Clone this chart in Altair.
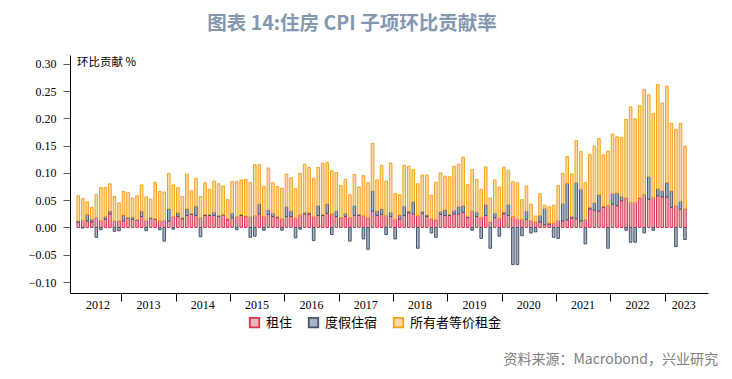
import altair as alt
import pandas as pd

# Monthly, Mar 2012 .. May 2023
dates = pd.date_range("2012-03-01", "2023-05-01", freq="MS")

series_names = ["租住", "度假住宿", "所有者等价租金"]

rent = [
    .010, .013, .012, .010, .018, .013, .015, .025, .012, .012,
    .012, .017, .015, .013, .020, .013, .017, .015, .013, .013, .012, .020,
    .020, .016, .022, .024, .022, .018, .022, .022, .022, .020, .023, .014,
    .018, .020, .022, .020, .020, .022, .025, .020, .024, .020, .018, .016,
    .020, .020, .017, .024, .025, .024, .020, .022, .022, .026, .025, .020,
    .018, .020, .018, .022, .022, .022, .018, .030, .022, .024, .022, .020,
    .015, .015, .022, .027, .025, .022, .026, .020, .016, .014, .024, .022,
    .022, .025, .025, .028, .018, .030, .020, .018, .022, .010, .018, .017,
    .025, .022, .020, .015, .015, .015, .012, .010, .010, .005, .006, .008,
    .013, .012, .014, .017, .016, .012, .014, .034, .032, .030, .037, .040,
    .043, .040, .049, .054, .046, .046, .054, .061, .052, .055, .058, .056,
    .056, .037, .040, .034, .034,
]

lodging = [
    .002, -.001, .012, .005, -.018, -.004, .005, .005, -.007, -.006,
    .011, .001, .004, .001, .010, -.006, .001, .001, -.004, -.025, .022, -.003,
    .007, .002, .012, .002, .017, -.017, .002, .002, .006, .002, .001, .002,
    .008, -.004, .002, .001, -.018, -.016, .018, -.005, .008, .006, .002, -.005,
    .018, .010, -.019, -.003, .002, .003, -.024, .018, .002, .017, -.013, .010,
    .000, .006, -.025, .018, .002, -.021, -.040, .037, .008, .010, -.013, .008,
    -.021, .008, .017, .003, .022, -.038, .003, .003, -.010, -.018, .005, .010,
    .002, .006, .013, .012, .002, -.005, .008, -.020, .020, -.038, .008, -.016,
    .003, .020, -.068, -.068, -.015, .015, -.010, -.008, .012, .030, .002, -.018,
    -.020, .032, .067, .003, .066, .058, -.030, .003, .013, .030, .002, -.038,
    .019, .023, .008, -.005, -.027, -.027, .000, -.010, .041, -.005, .013, .011,
    .026, .030, -.035, .014, -.022,
]

oer = [
    .046, .040, .023, .022, .042, .060, .053, .050, .045, .033,
    .043, .046, .035, .044, .048, .043, .034, .067, .053, .052, .065, .058,
    .046, .039, .064, .041, .051, .039, .058, .046, .057, .058, .052, .035,
    .058, .064, .063, .067, .062, .093, .072, .055, .077, .056, .055, .056,
    .060, .061, .054, .075, .089, .083, .070, .070, .094, .076, .079, .071,
    .059, .062, .042, .057, .050, .073, .064, .087, .057, .080, .063, .090,
    .047, .037, .075, .082, .059, .058, .067, .073, .043, .069, .071, .062,
    .069, .081, .078, .089, .059, .076, .060, .052, .069, .044, .061, .057,
    .082, .063, .064, .067, .036, .046, .031, .011, .040, .006, .030, .033,
    .064, .055, .049, .078, .077, .069, .068, .097, .104, .103, .094, .100,
    .109, .103, .108, .144, .175, .153, .169, .192, .150, .154, .191, .161,
    .177, .124, .140, .143, .115,
]

year_labels = [str(y) for y in range(2012, 2024)]
y_ticks = [-0.10, -0.05, 0.0, 0.05, 0.10, 0.15, 0.20, 0.25, 0.30]

assert len(rent) == len(dates) == len(lodging) == len(oer), (len(rent), len(lodging), len(oer), len(dates))

X_MIN, X_MAX = 2012.149, 2023.707

rows = []
for i, d in enumerate(dates):
    xc = d.year + (d.month - 0.5) / 12
    for k, (name, vals) in enumerate(zip(series_names, [rent, lodging, oer])):
        rows.append({"x": xc, "series": name, "value": vals[i], "k": k})
df = pd.DataFrame(rows)

fills = ["#f0b3bc", "#aab4c3", "#fddba2"]
strokes = ["#d8344c", "#44546a", "#f5a11c"]

xscale = alt.Scale(domain=[X_MIN, X_MAX], nice=False, zero=False)
legend = alt.Legend(
    title=None, orient="none", legendX=178, legendY=261, direction="horizontal",
    symbolType="square", symbolSize=90, symbolStrokeWidth=1.8,
    labelFont="Noto Sans CJK SC", labelFontSize=13, labelColor="#000000",
    labelOffset=5, columnPadding=12,
)

bars = alt.Chart(df).mark_bar(size=2.6, strokeWidth=1).encode(
    x=alt.X("x:Q", scale=xscale,
            axis=alt.Axis(values=list(range(2013, 2024)), labels=False, ticks=True,
                          tickSize=8, tickColor="#000000", domainColor="#000000",
                          grid=False, title=None)),
    y=alt.Y("value:Q", stack="zero",
            scale=alt.Scale(domain=[-0.12, 0.316], nice=False, zero=False),
            axis=alt.Axis(values=y_ticks, format=".2f", title=None, grid=False,
                          tickSize=7, tickColor="#555555", domainColor="#000000",
                          labelPadding=7, labelFont="Liberation Serif",
                          labelFontSize=12, labelColor="#000000")),
    fill=alt.Fill("series:N", scale=alt.Scale(domain=series_names, range=fills),
                  sort=series_names, legend=legend),
    stroke=alt.Stroke("series:N", scale=alt.Scale(domain=series_names, range=strokes),
                      sort=series_names, legend=legend),
    order=alt.Order("k:Q"),
)

lab_pos = [(X_MIN + 2013) / 2] + [y + 0.5 for y in range(2013, 2023)] + [(2023 + X_MAX) / 2]
years_df = pd.DataFrame({"label": year_labels, "pos": lab_pos})
years = alt.Chart(years_df).mark_text(
    font="Liberation Serif", fontSize=12, color="#000000", baseline="middle"
).encode(x=alt.X("pos:Q", scale=xscale), y=alt.value(250), text="label:N")

unit = alt.Chart(pd.DataFrame({"t": ["环比贡献  %"]})).mark_text(
    font="Noto Sans CJK SC", fontSize=11.5, align="left", baseline="middle", color="#000000"
).encode(x=alt.value(7), y=alt.value(8), text="t:N")

source = alt.Chart(pd.DataFrame({"t": ["资料来源：Macrobond，兴业研究"]})).mark_text(
    font="Noto Sans CJK SC", fontSize=14, align="right", baseline="middle", color="#808080"
).encode(x=alt.value(648), y=alt.value(305), text="t:N")

chart = alt.layer(bars, years, unit, source).properties(
    width=638, height=238,
    title=alt.TitleParams("图表 14:住房 CPI 子项环比贡献率", font="Noto Sans CJK SC",
                          fontSize=19.5, fontWeight="bold", color="#8497b0",
                          anchor="middle", dx=-37, offset=21),
    autosize=alt.AutoSizeParams(type="none"),
    padding={"left": 62, "top": 47, "right": 16, "bottom": 76},
).configure_view(stroke=None).configure_axis(labelFont="Liberation Serif")

chart.save("out.html", embed_options={"renderer": "svg", "actions": False})
